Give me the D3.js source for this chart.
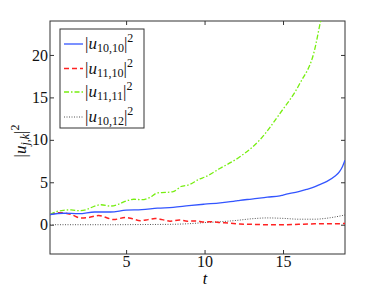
<!DOCTYPE html>
<html><head><meta charset="utf-8">
<script src="https://cdn.jsdelivr.net/npm/d3@7"></script>
<style>body{margin:0;background:#fff;}svg{display:block;} text{font-family:'Liberation Serif','Times New Roman',serif;}</style>
</head><body>
<script>
// Data
const tBlue = [0.15,1,2,3,4,5,6,7,8,9,10,11,12,12.25,13,14,14.8,15,16,16.5,17,17.3,17.8,18.3,18.6,18.8,18.95];
const vBlue = [1.2,1.35,1.3,1.5,1.5,1.72,1.78,1.95,2.05,2.25,2.42,2.58,2.8,2.88,3.02,3.25,3.4,3.5,3.9,4.15,4.45,4.7,5.1,5.7,6.25,6.9,7.6];

const tRed = [0.15,0.8,1.5,2.1,2.6,3.25,3.8,4.2,4.95,5.4,5.9,6.4,6.85,7.3,7.8,8.4,8.9,9.4,10,10.5,11,11.5,12.25,13,14,15,16,17,18,18.95];
const vRed = [1.2,1.42,1.2,0.8,0.85,1.08,0.8,0.6,0.85,0.7,0.48,0.6,0.74,0.6,0.42,0.55,0.42,0.45,0.32,0.35,0.25,0.2,0.08,0.05,0.0,0.0,0.05,0.1,0.1,0.15];

const tGreen = [0.15,0.5,1,1.5,2,2.5,3,3.4,4,4.5,5,5.5,6,6.5,7,7.5,8,8.5,9,9.7,10,11,12.25,13.5,14.8,16.06,17,17.4,18];
const vGreen = [1.2,1.5,1.7,1.75,1.65,1.8,2.2,2.35,2.2,2.4,2.8,3.0,2.95,3.2,3.75,3.8,3.9,4.5,4.7,5.4,5.6,6.65,8.0,9.95,13.1,16.6,20.5,24,28];

const tGray = [0.15,2,4,6,8,9,10,11,12,13,14,15,16,17,18,18.95];
const vGray = [0,0,0,0.02,0.05,0.12,0.25,0.35,0.5,0.7,0.8,0.75,0.65,0.65,0.82,1.15];

const xTicks = [5,10,15];
const yTicks = [0,5,10,15,20];
const seriesNames = ["10,10","11,10","11,11","10,12"];

const W = 382, H = 287;
const m = {left:50, top:21, right:345, bottom:254};
const svg = d3.select("body").append("svg").attr("width",W).attr("height",H);

const x = d3.scaleLinear().domain([0.15,18.95]).range([m.left,m.right]);
const y = d3.scaleLinear().domain([-3.45,24]).range([m.bottom,m.top]);

svg.append("defs").append("clipPath").attr("id","clip")
  .append("rect").attr("x",m.left).attr("y",m.top).attr("width",m.right-m.left).attr("height",m.bottom-m.top);

const frameColor = "#333";

// axes
const gB = svg.append("g").attr("transform",`translate(0,${m.bottom})`)
  .call(d3.axisBottom(x).tickValues(xTicks).tickSizeInner(-4).tickSizeOuter(0).tickPadding(2).tickFormat(d3.format("d")));
const gT = svg.append("g").attr("transform",`translate(0,${m.top})`)
  .call(d3.axisTop(x).tickValues(xTicks).tickSizeInner(-4).tickSizeOuter(0).tickFormat(""));
const gL = svg.append("g").attr("transform",`translate(${m.left},0)`)
  .call(d3.axisLeft(y).tickValues(yTicks).tickSizeInner(-4).tickSizeOuter(0).tickPadding(2).tickFormat(d3.format("d")));
const gR = svg.append("g").attr("transform",`translate(${m.right},0)`)
  .call(d3.axisRight(y).tickValues(yTicks).tickSizeInner(-4).tickSizeOuter(0).tickFormat(""));
[gB,gT,gL,gR].forEach(g=>{
  g.attr("font-family",null);
  g.select(".domain").remove();
  g.selectAll("line").attr("stroke",frameColor);
  g.selectAll("text").attr("font-size",16).attr("fill","#111");
});
svg.append("rect").attr("x",m.left).attr("y",m.top).attr("width",m.right-m.left).attr("height",m.bottom-m.top)
  .attr("fill","none").attr("stroke",frameColor).attr("stroke-width",1);

// lines
const series = [
  {t:tBlue, v:vBlue, color:"#3355ff", dash:null, w:1.3},
  {t:tRed, v:vRed, color:"#ff2222", dash:"5,3", w:1.5},
  {t:tGreen, v:vGreen, color:"#77ee11", dash:"5,2,1.5,2", w:1.3},
  {t:tGray, v:vGray, color:"#555", dash:"1,1.5", w:1}
];
const line = d3.line().x(d=>x(d[0])).y(d=>y(d[1])).curve(d3.curveMonotoneX);
const gl = svg.append("g").attr("clip-path","url(#clip)");
[3,1,2,0].forEach(i=>{
  const s = series[i];
  gl.append("path").datum(s.t.map((t,j)=>[t,s.v[j]]))
    .attr("d",line).attr("fill","none").attr("stroke",s.color).attr("stroke-width",s.w)
    .attr("stroke-dasharray",s.dash);
});

// legend
const lg = svg.append("g");
lg.append("rect").attr("x",60).attr("y",29).attr("width",84).attr("height",99)
  .attr("fill","#fff").attr("stroke","#333").attr("stroke-width",1);
const rowsY = [44,68.5,92,117];
series.forEach((s,i)=>{
  const yy = rowsY[i];
  lg.append("line").attr("x1",64).attr("x2",83).attr("y1",yy).attr("y2",yy)
    .attr("stroke",s.color).attr("stroke-width",s.w).attr("stroke-dasharray",s.dash);
  const tx = lg.append("text").attr("x",85).attr("y",yy+5).attr("font-size",17).attr("fill","#111");
  tx.append("tspan").text("|");
  tx.append("tspan").attr("font-style","italic").text("u");
  tx.append("tspan").attr("font-size",12).attr("dy",3).text(seriesNames[i]);
  tx.append("tspan").attr("dy",-3).text("|");
  tx.append("tspan").attr("font-size",12).attr("dy",-7).text("2");
});

// axis labels
svg.append("text").attr("x",205).attr("y",284).attr("text-anchor","middle")
  .attr("font-style","italic").attr("font-size",16).text("t");
const yl = svg.append("text").attr("transform","translate(26,141) rotate(-90)").attr("text-anchor","middle")
  .attr("font-size",17).attr("fill","#111");
yl.append("tspan").text("|");
yl.append("tspan").attr("font-style","italic").text("u");
yl.append("tspan").attr("font-size",12).attr("dy",3).attr("font-style","italic").text("j,k");
yl.append("tspan").attr("dy",-3).text("|");
yl.append("tspan").attr("font-size",12).attr("dy",-7).text("2");
</script>
</body></html>
